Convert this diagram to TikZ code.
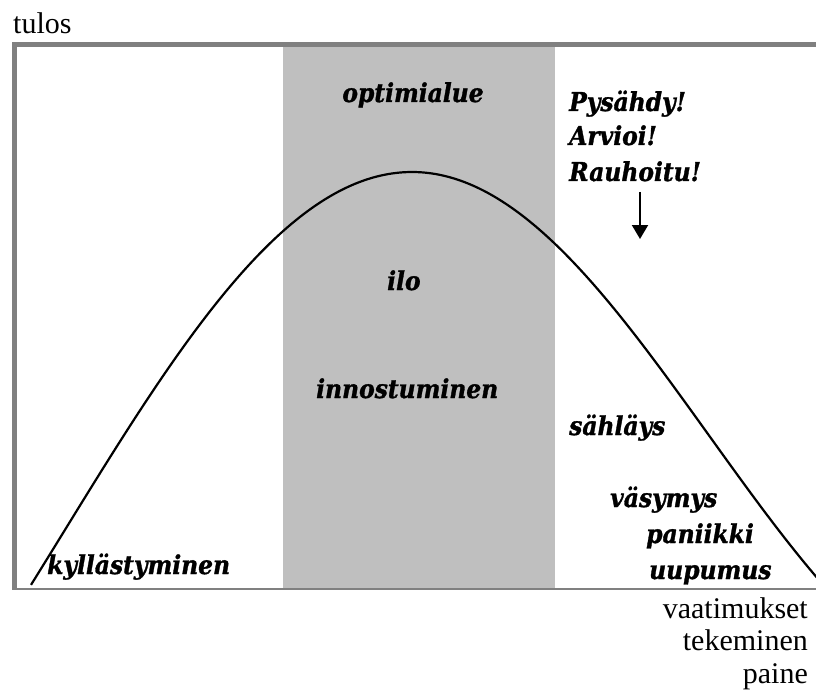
\documentclass[tikz,border=0pt]{standalone}
\usepackage{fontspec}
\setmainfont{Liberation Serif}
\newfontfamily\lblfont[BoldItalicFeatures={FakeBold=1.2}]{DejaVu Serif Condensed}
\usetikzlibrary{arrows.meta}
\tikzset{
  lbl/.style={inner sep=0pt, font=\lblfont\bfseries\itshape\fontsize{26}{30}\selectfont},
  axis/.style={inner sep=0pt, font=\fontsize{30}{33}\selectfont},
  curve/.style={line width=2.2pt, black, line join=round},
  frameline/.style={draw=black!50},
}
\begin{document}
\begin{tikzpicture}[x=1pt,y=-1pt]
\useasboundingbox (0,0) rectangle (816,695);
% optimal zone band
\fill[black!25] (283,47) rectangle (555,588);
% frame
\draw[frameline, line width=5pt] (14.5,588) -- (14.5,44.5) -- (816,44.5);
\draw[frameline, line width=2pt] (12,588.5) -- (816,588.5);
% curve
\begin{scope}
\clip (0,0) rectangle (816,695);
\draw[curve] plot[domain=31:412, samples=120, smooth]
  ({\x},{172+361*(1-cos(deg(0.0045*(412-\x))))})
  -- plot[domain=412:822, samples=120, smooth]
  ({\x},{172+263*(1-cos(deg(0.0053*(\x-412))))});
\end{scope}
% labels
\node[axis, anchor=base west] (tulos) at (13,34) {tulos};
\node[axis, anchor=base east] (vaat) at (808,618) {vaatimukset};
\node[axis, anchor=base east] (teke) at (808,650) {tekeminen};
\node[axis, anchor=base east] (paine) at (808,683) {paine};
\node[lbl, anchor=base] (opt) at (413,102) {optimialue};
\node[lbl, anchor=base west] (p1) at (569,111) {Pysähdy!};
\node[lbl, anchor=base west] (p2) at (569,145) {Arvioi!};
\node[lbl, anchor=base west] (p3) at (569,181) {Rauhoitu!};
\node[lbl, anchor=base west] (ilo) at (387,290) {ilo};
\node[lbl, anchor=base west] (inno) at (316,398) {innostuminen};
\node[lbl, anchor=base west] (sahl) at (569,435) {sähläys};
\node[lbl, anchor=base west] (vasy) at (610,507) {väsymys};
\node[lbl, anchor=base west] (pani) at (646,543) {paniikki};
\node[lbl, anchor=base west] (uupu) at (649,579) {uupumus};
\node[lbl, anchor=base west] (kyll) at (47,574) {kyllästyminen};
% arrow
\coordinate (arrS) at (640,192);
\coordinate (arrE) at (640,239);
\draw[line width=2pt, -{Triangle[length=14pt,width=16pt]}] (arrS) -- (arrE);
\end{tikzpicture}
\end{document}
